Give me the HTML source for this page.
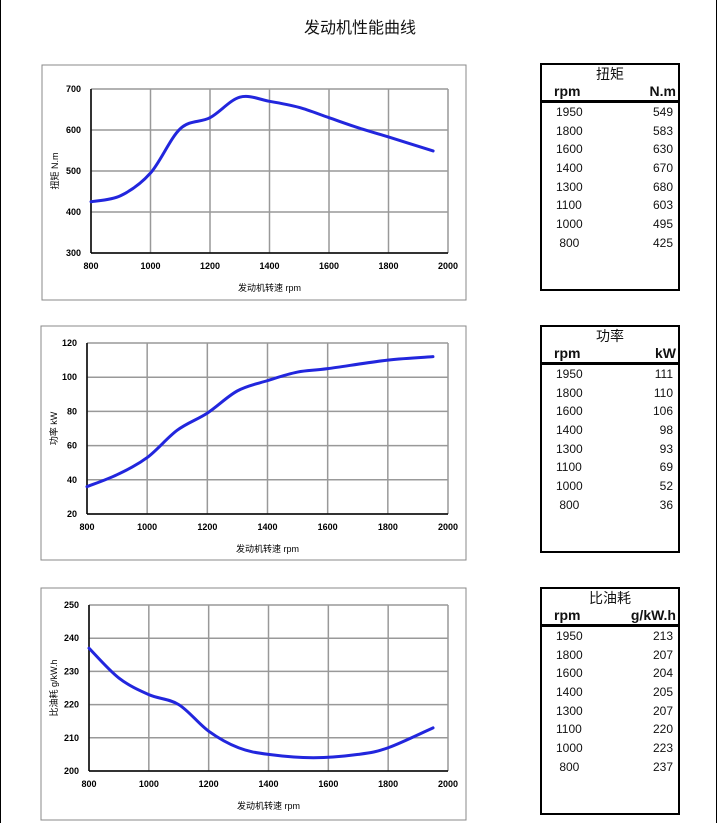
<!DOCTYPE html>
<html><head><meta charset="utf-8">
<style>
html,body{margin:0;padding:0;background:#fff;}
body{width:720px;height:823px;position:relative;overflow:hidden;font-family:"Liberation Sans","Noto Sans CJK SC",sans-serif;}
.title{position:absolute;left:0;width:720px;top:14px;text-align:center;font-size:16px;color:#111;}
.tb{position:absolute;left:540px;width:136px;border:2px solid #000;font-size:12px;color:#111;}
.tb .h{text-align:center;font-size:14px;height:18px;line-height:18px;}
.tb .u{display:flex;justify-content:space-between;font-weight:bold;font-size:14px;padding:0 2px 0 12px;height:17px;line-height:17px;border-bottom:3px solid #000;}
.tb .r{display:flex;justify-content:space-between;padding:0 5px 0 14px;height:18.7px;line-height:18.7px;}
</style></head><body>
<div style="position:absolute;left:0;top:0;width:1px;height:823px;background:#000"></div>
<div style="position:absolute;left:716px;top:0;width:1px;height:823px;background:#000"></div>
<div class="title">发动机性能曲线</div>
<svg id="s" width="720" height="823" style="position:absolute;left:0;top:0"></svg>

<div class="tb" style="top:63px;height:224px"><div class="h">扭矩</div><div class="u"><span>rpm</span><span>N.m</span></div>
<div class="r"><span>1950</span><span>549</span></div><div class="r"><span>1800</span><span>583</span></div><div class="r"><span>1600</span><span>630</span></div><div class="r"><span>1400</span><span>670</span></div><div class="r"><span>1300</span><span>680</span></div><div class="r"><span>1100</span><span>603</span></div><div class="r"><span>1000</span><span>495</span></div><div class="r"><span>&nbsp;800</span><span>425</span></div></div>

<div class="tb" style="top:325px;height:224px"><div class="h">功率</div><div class="u"><span>rpm</span><span>kW</span></div>
<div class="r"><span>1950</span><span>111</span></div><div class="r"><span>1800</span><span>110</span></div><div class="r"><span>1600</span><span>106</span></div><div class="r"><span>1400</span><span>98</span></div><div class="r"><span>1300</span><span>93</span></div><div class="r"><span>1100</span><span>69</span></div><div class="r"><span>1000</span><span>52</span></div><div class="r"><span>&nbsp;800</span><span>36</span></div></div>

<div class="tb" style="top:587px;height:224px"><div class="h">比油耗</div><div class="u"><span>rpm</span><span>g/kW.h</span></div>
<div class="r"><span>1950</span><span>213</span></div><div class="r"><span>1800</span><span>207</span></div><div class="r"><span>1600</span><span>204</span></div><div class="r"><span>1400</span><span>205</span></div><div class="r"><span>1300</span><span>207</span></div><div class="r"><span>1100</span><span>220</span></div><div class="r"><span>1000</span><span>223</span></div><div class="r"><span>&nbsp;800</span><span>237</span></div></div>

<script>
var s=document.getElementById('s'),h='';
function chart(o){
 h+='<rect x="'+o.bx+'" y="'+o.by+'" width="'+o.bw+'" height="'+o.bh+'" fill="none" stroke="#888" stroke-width="1"/>';
 var X=function(v){return o.px+(v-800)/1200*(o.pw)},Y=function(v){return o.py+o.ph-(v-o.y0)/(o.y1-o.y0)*o.ph};
 for(var v=800;v<=2000;v+=200){var x=X(v);h+='<line x1="'+x+'" y1="'+o.py+'" x2="'+x+'" y2="'+(o.py+o.ph)+'" stroke="#999" stroke-width="1.5"/>';
  h+='<text x="'+x+'" y="'+(o.py+o.ph+16)+'" font-size="9" font-weight="bold" text-anchor="middle">'+v+'</text>';}
 for(var v=o.y0;v<=o.y1;v+=o.ys){var y=Y(v);h+='<line x1="'+o.px+'" y1="'+y+'" x2="'+(o.px+o.pw)+'" y2="'+y+'" stroke="#999" stroke-width="1.5"/>';
  h+='<text x="'+(o.px-10)+'" y="'+(y+3)+'" font-size="9" font-weight="bold" text-anchor="end">'+v+'</text>';}
 h+='<line x1="'+o.px+'" y1="'+o.py+'" x2="'+o.px+'" y2="'+(o.py+o.ph)+'" stroke="#000" stroke-width="1.5"/>';
 h+='<line x1="'+o.px+'" y1="'+(o.py+o.ph)+'" x2="'+(o.px+o.pw)+'" y2="'+(o.py+o.ph)+'" stroke="#000" stroke-width="1.5"/>';
 h+='<text x="'+(o.px+o.pw/2)+'" y="'+(o.py+o.ph+38)+'" font-size="9" text-anchor="middle">发动机转速  rpm</text>';
 var cy=o.py+o.ph/2;
 h+='<text transform="translate('+(o.bx+16)+','+cy+') rotate(-90)" font-size="9" text-anchor="middle">'+o.lab+'</text>';
 var p=o.d.map(function(a){return [X(a[0]),Y(a[1])]});
 var d='M'+p[0][0]+','+p[0][1];
 for(var i=0;i<p.length-1;i++){var p0=p[i-1]||p[i],p1=p[i],p2=p[i+1],p3=p[i+2]||p2;
  d+=' C'+(p1[0]+(p2[0]-p0[0])/6)+','+(p1[1]+(p2[1]-p0[1])/6)+' '+(p2[0]-(p3[0]-p1[0])/6)+','+(p2[1]-(p3[1]-p1[1])/6)+' '+p2[0]+','+p2[1];}
 h+='<path d="'+d+'" fill="none" stroke="#2226dd" stroke-width="3" stroke-linecap="round"/>';
}
chart({bx:42,by:65,bw:424,bh:235,px:91,py:89,pw:357,ph:164,y0:300,y1:700,ys:100,lab:'扭矩  N.m',
 d:[[800,425],[900,440],[1000,495],[1100,603],[1200,630],[1300,680],[1400,670],[1500,655],[1600,630],[1700,605],[1800,583],[1950,549]]});
chart({bx:41,by:326,bw:425,bh:234,px:87,py:343,pw:361,ph:171,y0:20,y1:120,ys:20,lab:'功率  kW',
 d:[[800,36],[900,43],[1000,53],[1100,69],[1200,79],[1300,92],[1400,98],[1500,103],[1600,105],[1800,110],[1950,112]]});
chart({bx:41,by:588,bw:425,bh:232,px:89,py:605,pw:359,ph:166,y0:200,y1:250,ys:10,lab:'比油耗  g/kW.h',
 d:[[800,237],[900,228],[1000,223],[1100,220],[1200,212],[1300,207],[1400,205],[1550,204],[1700,205],[1800,207],[1950,213]]});
s.innerHTML=h;
</script>
</body></html>
